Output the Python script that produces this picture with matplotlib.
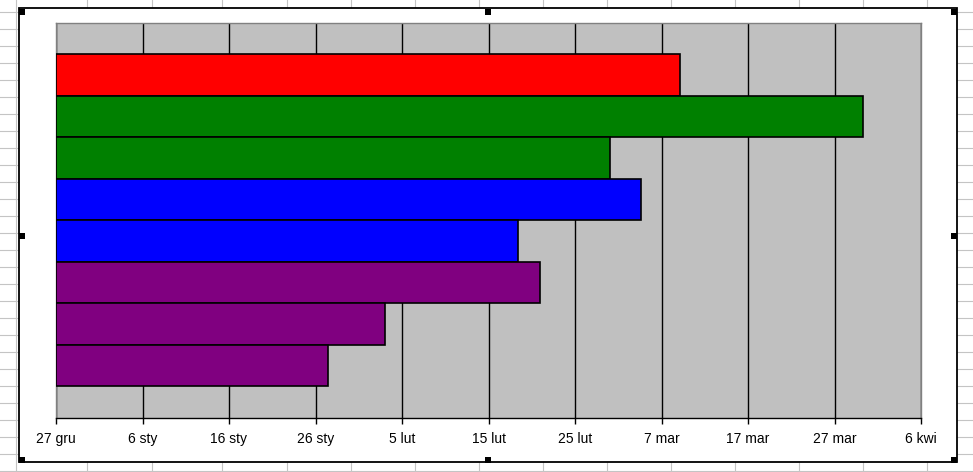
import matplotlib

matplotlib.use("Agg")
import datetime

import matplotlib.dates as mdates
import matplotlib.pyplot as plt
from matplotlib.patches import Rectangle

plt.rcParams["font.family"] = ["Liberation Sans", "DejaVu Sans"]

# dane wykresu
poczatek = "2008-12-27"
koniec = "2009-04-06"
daty_konca = [
    "2009-03-09 02:00",
    "2009-03-30 07:00",
    "2009-03-01 00:00",
    "2009-03-04 14:00",
    "2009-02-18 10:00",
    "2009-02-20 22:00",
    "2009-02-03 02:00",
    "2009-01-27 12:00",
]
kolory = ["#ff0000", "#008000", "#008000", "#0000ff", "#0000ff",
          "#800080", "#800080", "#800080"]
etykiety_osi = ["27 gru", "6 sty", "16 sty", "26 sty", "5 lut", "15 lut",
                "25 lut", "7 mar", "17 mar", "27 mar", "6 kwi"]

# siatka arkusza w tle (piksele)
kolumny_arkusza = [16, 87, 152, 222, 287, 351, 415, 479, 543, 607, 671,
                   735, 799, 863, 927]
wiersze_arkusza = [12 + 17 * k for k in range(28)]

W, H = 973, 472
fig = plt.figure(figsize=(W / 100, H / 100), dpi=100)
fig.patch.set_facecolor("white")

tlo = fig.add_axes([0, 0, 1, 1])
tlo.set_xlim(0, W)
tlo.set_ylim(H, 0)
tlo.axis("off")
for x in kolumny_arkusza:
    tlo.plot([x, x], [0, H], color="#c4c4c4", lw=0.8)
for y in wiersze_arkusza:
    tlo.plot([0, W], [y, y], color="#c4c4c4", lw=0.8)
# obszar wykresu
tlo.add_patch(Rectangle((19, 8), 938, 454, facecolor="white",
                        edgecolor="black", lw=1.3, zorder=3))
uchwyty = [(19, 9), (485, 9), (951, 9), (19, 233), (951, 233),
           (19, 457), (485, 457), (951, 457)]
for hx, hy in uchwyty:
    tlo.add_patch(Rectangle((hx, hy), 6, 6, facecolor="black",
                            edgecolor="none", zorder=4))

x0, x1 = 56, 921
y0, y1 = 23.3, 418.3
ax = fig.add_axes([x0 / W, 1 - y1 / H, (x1 - x0) / W, (y1 - y0) / H])
ax.set_facecolor("#c0c0c0")

start = mdates.date2num(datetime.datetime.strptime(poczatek, "%Y-%m-%d"))
stop = mdates.date2num(datetime.datetime.strptime(koniec, "%Y-%m-%d"))
konce = [mdates.date2num(datetime.datetime.strptime(d, "%Y-%m-%d %H:%M"))
         for d in daty_konca]
pozycje = list(range(len(konce)))
szer = [k - start for k in konce]

ax.barh(pozycje, szer, left=start, height=1.0, color=kolory,
        edgecolor="black", linewidth=1.2, zorder=3)

ax.set_xlim(start, stop)
ax.set_ylim(7.5 + 0.77, -0.5 - 0.75)
ax.set_xticks([start + 10 * i for i in range(len(etykiety_osi))])
ax.set_xticklabels(etykiety_osi, fontsize=10)
ax.set_yticks([])
ax.grid(True, axis="x", color="black", linewidth=1.0)
ax.set_axisbelow(True)
ax.tick_params(axis="x", direction="out", length=4, width=1.0, pad=6,
               colors="black")
for s in ["top", "left", "right"]:
    ax.spines[s].set_color("#808080")
    ax.spines[s].set_linewidth(1.0)
ax.spines["bottom"].set_color("black")
ax.spines["bottom"].set_linewidth(1.0)

plt.savefig("out.png", dpi=100)
plt.close()
